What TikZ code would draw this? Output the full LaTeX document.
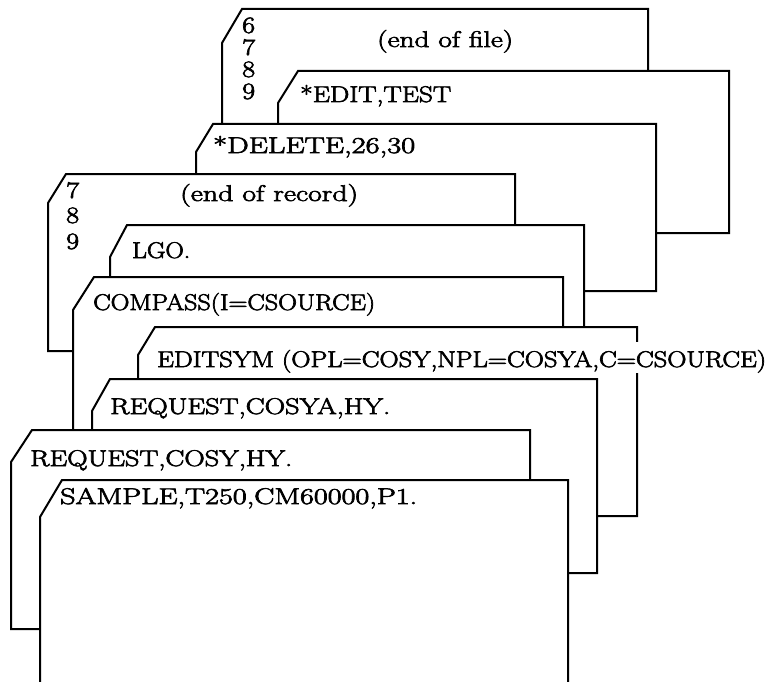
\documentclass[tikz,border=0pt]{standalone}
\usepackage{fontspec}
\usepackage{graphicx}
\newlength\cardtw
\newlength\cardth
\def\capht{15.5}
% scale text to a given width (in pt) and to a cap height of \capht pt
\newcommand\fitto[2]{\settowidth\cardtw{#2}\settoheight\cardth{H}\pgfmathsetmacro\cardsx{#1/\cardtw}\pgfmathsetmacro\cardsy{\capht/\cardth}\scalebox{\cardsx}[\cardsy]{#2}}
\newcommand\dg[1]{\settoheight\cardth{8}\pgfmathsetmacro\cardsy{15.5/\cardth}\pgfmathsetmacro\cardsx{1.2*\cardsy}\scalebox{\cardsx}[\cardsy]{#1}}
\newfontfamily\cardfont[FakeBold=2.6]{Latin Modern Roman}
\tikzset{
  card/.style={fill=white, draw=black, line width=2pt, line join=miter},
  cardtext/.style={inner sep=0pt, anchor=base west, font=\cardfont\fontsize{22}{26}\selectfont},
  digit/.style={inner sep=0pt, anchor=base west, font=\cardfont\fontsize{22}{26}\selectfont}
}
\begin{document}
\begin{tikzpicture}[x=1pt,y=-1pt]
\useasboundingbox (0,0) rectangle (773,682);
% card 1: end of file
\filldraw[card] (222,43) -- (242,9) -- (648,9) -- (648,200) -- (222,200) -- cycle;
\node[digit] (fa) at (242,33) {\dg{6}};
\node[digit] (fb) at (242,55) {\dg{7}};
\node[digit] (fc) at (242,77) {\dg{8}};
\node[digit] (fd) at (242,99) {\dg{9}};
\node[cardtext] (eof) at (377,47) {\fitto{136}{(end of file)}};
% card 2: *EDIT,TEST
\filldraw[card] (278,103) -- (298,71) -- (729,71) -- (729,233) -- (278,233) -- cycle;
\node[cardtext] (edit) at (300,102) {\fitto{151}{*EDIT,TEST}};
% card 3: *DELETE
\filldraw[card] (196,152) -- (213,124) -- (656,124) -- (656,291) -- (196,291) -- cycle;
\node[cardtext] (del) at (213,153) {\fitto{202}{*DELETE,26,30}};
% card 4: end of record
\filldraw[card] (48,203) -- (66,174) -- (515,174) -- (515,351) -- (48,351) -- cycle;
\node[digit] (ra) at (66,198) {\dg{7}};
\node[digit] (rb) at (66,223) {\dg{8}};
\node[digit] (rc) at (66,249) {\dg{9}};
\node[cardtext] (eor) at (180,201) {\fitto{178}{(end of record)}};
% card 5: LGO.
\filldraw[card] (110,257) -- (127,225) -- (584,225) -- (584,400) -- (110,400) -- cycle;
\node[cardtext] (lgo) at (132,258) {\fitto{58}{LGO.}};
% card 6: COMPASS
\filldraw[card] (73,310) -- (94,277) -- (563,277) -- (563,450) -- (73,450) -- cycle;
\node[cardtext] (compass) at (93,310) {\fitto{282}{COMPASS(I=CSOURCE)}};
% card 7: EDITSYM
\filldraw[card] (138,355) -- (155,327) -- (637,327) -- (637,516) -- (138,516) -- cycle;
\node[cardtext, fill=white, text height=24pt, text depth=5pt, inner ysep=1pt] (editsym) at (157,367) {\fitto{609}{EDITSYM (OPL=COSY,NPL=COSYA,C=CSOURCE)}};
% card 8: REQUEST,COSYA
\filldraw[card] (92,411) -- (110,379) -- (597,379) -- (597,573) -- (92,573) -- cycle;
\node[cardtext] (reqa) at (110,414) {\fitto{280}{REQUEST,COSYA,HY.}};
% card 9: REQUEST,COSY
\filldraw[card] (11,462) -- (32,430) -- (530,430) -- (530,629) -- (11,629) -- cycle;
\node[cardtext] (req) at (30,466) {\fitto{262}{REQUEST,COSY,HY.}};
% card 10: SAMPLE (open at the bottom)
\fill[white] (40,517) -- (62,480) -- (568,480) -- (568,682) -- (40,682) -- cycle;
\draw[card, fill=none] (40,682) -- (40,517) -- (62,480) -- (568,480) -- (568,682);
\node[cardtext] (sample) at (60,504) {\fitto{357}{SAMPLE,T250,CM60000,P1.}};
\end{tikzpicture}
\end{document}
